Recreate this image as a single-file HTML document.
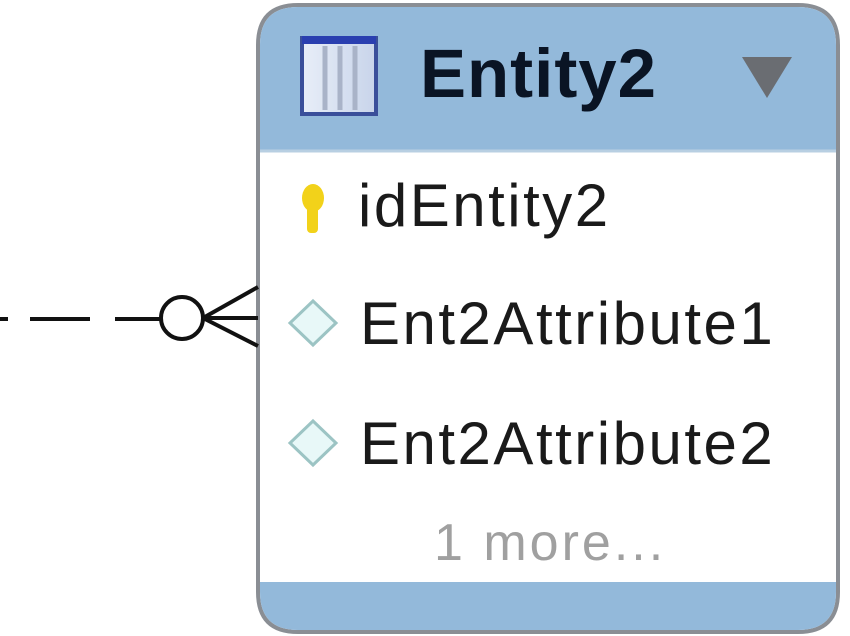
<!DOCTYPE html>
<html><head><style>
html,body{margin:0;padding:0;background:#fff;}
body{width:850px;height:636px;position:relative;overflow:hidden;font-family:"Liberation Sans",sans-serif;}
.t{position:absolute;white-space:nowrap;}
</style></head><body>
<svg width="850" height="636" style="position:absolute;left:0;top:0">
  <defs>
    <linearGradient id="ic" x1="0" x2="1">
      <stop offset="0" stop-color="#e8eef8"/><stop offset="1" stop-color="#c8d4ea"/>
    </linearGradient>
  </defs>
  <path d="M298,5 H798 Q838,5 838,45 V592 Q838,632 798,632 H298 Q258,632 258,592 V45 Q258,5 298,5 Z" fill="#fff" stroke="#8a8e94" stroke-width="4"/>
  <path d="M298,7 H798 Q836,7 836,45 V150 H260 V45 Q260,7 298,7 Z" fill="#93b9da"/>
  <path d="M260,582 H836 V592 Q836,630 798,630 H298 Q260,630 260,592 Z" fill="#93b9da"/>
  <line x1="260" y1="151" x2="836" y2="151" stroke="#b8cfe2" stroke-width="3"/>
  <rect x="302" y="38" width="74" height="76" fill="url(#ic)" stroke="#3a4f9a" stroke-width="4"/>
  <rect x="302" y="36" width="74" height="8" fill="#2a3fb0"/>
  <line x1="325" y1="46" x2="325" y2="110" stroke="#a9b3c8" stroke-width="5"/>
  <line x1="340" y1="46" x2="340" y2="110" stroke="#a9b3c8" stroke-width="5"/>
  <line x1="355" y1="46" x2="355" y2="110" stroke="#a9b3c8" stroke-width="5"/>
  <polygon points="742,57 792,57 767,98" fill="#6a6d72"/>
  <ellipse cx="313" cy="198" rx="11" ry="14" fill="#f2d21a"/>
  <rect x="307" y="205" width="11" height="28" rx="4" fill="#f2d21a"/>
  <polygon points="313,301 336,323 313,345 290,323" fill="#e8f8f8" stroke="#9cc4c4" stroke-width="3"/>
  <polygon points="313,421 336,443 313,465 290,443" fill="#e8f8f8" stroke="#9cc4c4" stroke-width="3"/>
  <g stroke="#111" stroke-width="4" fill="none">
    <line x1="0" y1="319" x2="8" y2="319"/>
    <line x1="30" y1="319" x2="90" y2="319"/>
    <line x1="115" y1="319" x2="160" y2="319"/>
    <circle cx="182" cy="318" r="21" fill="#fff"/>
    <line x1="203" y1="318" x2="258" y2="287"/>
    <line x1="203" y1="318" x2="258" y2="318"/>
    <line x1="203" y1="318" x2="258" y2="346"/>
  </g>
</svg>
<div class="t" style="left:420px;top:34px;font-size:69px;font-weight:bold;color:#0a1424;letter-spacing:1px">Entity2</div>
<div class="t" style="left:358px;top:171px;font-size:60px;color:#1a1a1a;letter-spacing:2.5px">idEntity2</div>
<div class="t" style="left:360px;top:289px;font-size:60px;color:#1a1a1a;letter-spacing:2.5px">Ent2Attribute1</div>
<div class="t" style="left:360px;top:409px;font-size:60px;color:#1a1a1a;letter-spacing:2.5px">Ent2Attribute2</div>
<div class="t" style="left:434px;top:513px;font-size:52px;color:#a0a0a0;letter-spacing:3px">1 more...</div>
</body></html>
